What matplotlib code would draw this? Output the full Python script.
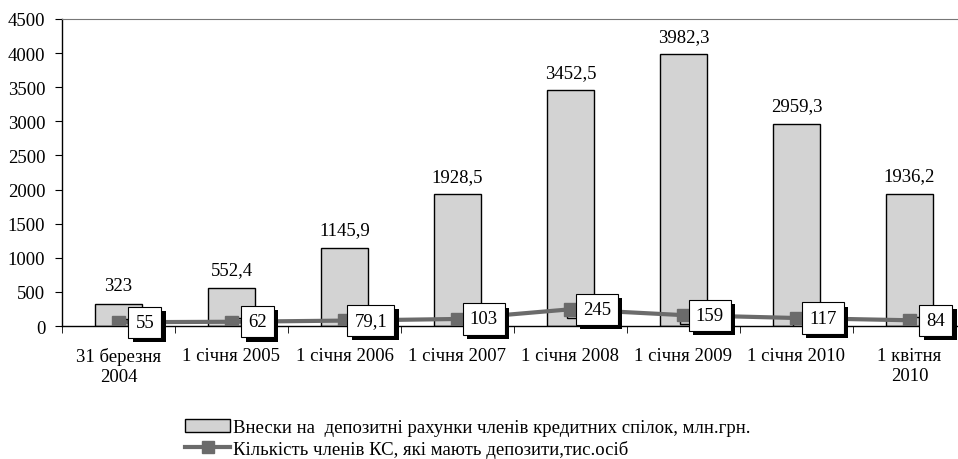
import numpy as np
import matplotlib
matplotlib.use('Agg')
import matplotlib.pyplot as plt
from matplotlib import patheffects as pe
from matplotlib.font_manager import FontProperties

serif = ['Liberation Serif', 'DejaVu Serif']
plt.rcParams['font.family'] = serif

# Дані
categories = ['31 березня\n2004', '1 січня 2005', '1 січня 2006', '1 січня 2007',
              '1 січня 2008', '1 січня 2009', '1 січня 2010', '1 квітня\n2010']
deposits = [323, 552.4, 1145.9, 1928.5, 3452.5, 3982.3, 2959.3, 1936.2]
deposit_labels = ['323', '552,4', '1145,9', '1928,5', '3452,5', '3982,3', '2959,3', '1936,2']
members = [55, 62, 79.1, 103, 245, 159, 117, 84]
member_labels = ['55', '62', '79,1', '103', '245', '159', '117', '84']
legend_labels = ['Внески на  депозитні рахунки членів кредитних спілок, млн.грн.',
                 'Кількість членів КС, які мають депозити,тис.осіб']

fig = plt.figure(figsize=(9.58, 4.6), dpi=100)
ax = fig.add_axes([62 / 958, 133 / 460, 904 / 958, 307 / 460])

x = np.arange(len(categories))
fs = 13.5

bars = ax.bar(x, deposits, width=0.42, color='#d3d3d3', edgecolor='black', linewidth=1,
              zorder=2)
for xi, v, lab in zip(x, deposits, deposit_labels):
    ax.annotate(lab, (xi, v), xytext=(0, 7), textcoords='offset points',
                ha='center', va='bottom', fontsize=fs)

# лінія кількості членів
ax.plot(x, members, color='#6b6b6b', linewidth=3, zorder=3)
ax.plot(x, members, linestyle='none', marker='s', markersize=9, color='#6b6b6b', zorder=4,
        path_effects=[pe.SimpleLineShadow(offset=(2, -2), shadow_color='black', alpha=1),
                      pe.Normal()])
line_handle, = ax.plot([], [], color='#6b6b6b', linewidth=3, marker='s', markersize=9)

for xi, v, lab in zip(x, members, member_labels):
    t = ax.annotate(lab, (xi, v), xytext=(19, 0), textcoords='offset points',
                    ha='center', va='center', fontsize=fs, zorder=6,
                    bbox=dict(boxstyle='square,pad=0.38', fc='white', ec='black', lw=0.8))
    t.get_bbox_patch().set_path_effects([
        pe.SimplePatchShadow(offset=(3, -3), shadow_rgbFace='black', alpha=1),
        pe.Normal()])

ax.set_xlim(-0.5, len(categories) - 0.5)
ax.set_ylim(0, 4500)
ax.set_yticks(np.arange(0, 4501, 500))
ax.set_xticks(x)
ax.set_xticklabels(categories, fontsize=fs, linespacing=1.25)
ax.tick_params(axis='x', length=0, pad=15)
ax.set_xticks(np.arange(-0.5, len(categories)), minor=True)
ax.tick_params(axis='x', which='minor', length=5, direction='out')
ax.yaxis.set_tick_params(labelsize=fs, length=5, direction='out', pad=7)

ax.spines['right'].set_visible(False)
ax.spines['top'].set_color('#777777')
ax.spines['left'].set_linewidth(1)
ax.spines['bottom'].set_linewidth(1)

leg_font = FontProperties(family='Liberation Serif', size=fs)
leg = fig.legend([bars, line_handle], legend_labels,
                 loc='upper left', bbox_to_anchor=(185 / 958, 1 - 420 / 460), frameon=False,
                 prop=leg_font, handlelength=2.4, handletextpad=0.15,
                 labelspacing=0.2, borderpad=0, borderaxespad=0)

fig.savefig('out.png', dpi=100)
